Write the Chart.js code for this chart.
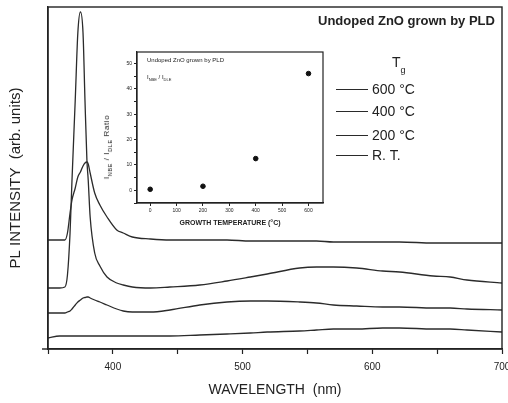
<!DOCTYPE html>
<html>
<head>
<meta charset="utf-8">
<script src="https://cdn.jsdelivr.net/npm/chart.js@4"></script>
<style>
  html, body { margin:0; padding:0; background:#fff; }
  #wrap { position:relative; width:508px; height:403px; overflow:hidden; font-family:"Liberation Sans", Arial, sans-serif; color:#222; }
  canvas { position:absolute; }
  .t { position:absolute; white-space:nowrap; line-height:1; }
  .ln { position:absolute; height:0; border-top:1.4px solid #2a2a2a; }
</style>
</head>
<body>
<div id="wrap">
  <canvas id="main" width="508" height="403" style="left:0;top:0;"></canvas>
  <canvas id="inset" width="230" height="190" style="left:100px;top:45px;"></canvas>

  <div class="t" style="left:318px;top:14px;font-size:13px;font-weight:bold;">Undoped ZnO grown by PLD</div>

  <div class="t" style="left:392px;top:55px;font-size:14px;">T<sub style="font-size:9px;position:relative;top:2px;">g</sub></div>
  <div class="ln" style="left:336px;top:89px;width:32px;"></div>
  <div class="t" style="left:372px;top:82px;font-size:14px;">600 °C</div>
  <div class="ln" style="left:336px;top:111px;width:32px;"></div>
  <div class="t" style="left:372px;top:104px;font-size:14px;">400 °C</div>
  <div class="ln" style="left:336px;top:135px;width:32px;"></div>
  <div class="t" style="left:372px;top:128px;font-size:14px;">200 °C</div>
  <div class="ln" style="left:336px;top:155px;width:32px;"></div>
  <div class="t" style="left:372px;top:148px;font-size:14px;">R. T.</div>

  <div class="t" style="left:147px;top:57px;font-size:6px;">Undoped ZnO grown by PLD</div>
  <div class="t" style="left:147px;top:74px;font-size:6px;">I<sub style="font-size:4px;">NBE</sub> / I<sub style="font-size:4px;">DLE</sub></div>
  <div class="t" style="left:108px;top:147px;font-size:8px;letter-spacing:0.6px;transform:translate(-50%,-50%) rotate(-90deg);">I<sub style="font-size:5.5px;">NBE</sub> / I<sub style="font-size:5.5px;">DLE</sub> Ratio</div>
</div>

<script>
// ---- Main PL spectra data (wavelength in nm, intensity in arbitrary, vertically offset units) ----
const wavelengths = [350,359,363,365,367,368.5,371,373,375,377,378.5,380,381,382.5,386,390,395.5,403,408,415,429,444,467,488,506,519,544,557,570,588,608,621,647,660,673,700];
const pl600 = [109,109,109,116,136,149,161,172,177,183,186,187,185,176,156,144,132,119,116,112,110,109,109,109,108,108,108,108,107,107,107,107,106,106,106,106];
const pl400 = [61,61,62,74,116,169,249,316,337,316,249,189,169,132,96,83,72,66,64,62,61,62,64,68,72,75,81,82,82,81,78,77,73,72,69,66];
const pl200 = [36,36,36,37,38,40,44,47,49,51,51.5,52,52,51,49,47,44,40,38,37,37,39,44,47,48,48,47,46,44,43,42,42,41,41,40,39];
const plRT  = [11,13,13,13,13,13,13,13,13,13,13,13,13,13,13,13,13,13,13,13,13,13,14,15,16,17,18,19,20,20,21,21,20,20,19,17];
const seriesLabels = ['600 °C','400 °C','200 °C','R. T.'];
const wavelengthTicks = [350,400,450,500,550,600,650,700];
const wavelengthTickLabels = [400,500,600,700];

// ---- Inset data ----
const growthTemps = [0,200,400,600];
const intensityRatios = [0.4,1.6,12.5,46];
const insetXTicks = [0,100,200,300,400,500,600];
const insetYTicks = [-5,0,5,10,15,20,25,30,35,40,45,50];
const insetYTickLabels = [0,10,20,30,40,50];

const FONT = '"Liberation Sans", Arial, sans-serif';
const INK = '#222';

const framePlugin = {
  id: 'frame',
  afterDatasetsDraw(chart, args, opts) {
    const {ctx, chartArea: a} = chart;
    ctx.save();
    ctx.strokeStyle = INK;
    ctx.lineWidth = opts.width || 1.4;
    ctx.strokeRect(a.left, a.top, a.right - a.left, a.bottom - a.top);
    if (opts.extendLeft) {
      ctx.beginPath();
      ctx.moveTo(a.left - opts.extendLeft, a.bottom);
      ctx.lineTo(a.left, a.bottom);
      ctx.stroke();
    }
    ctx.restore();
  }
};

const noPad = s => { s.paddingLeft = 0; s.paddingRight = 0; s.paddingTop = 0; s.paddingBottom = 0; };

const spectra = [pl600, pl400, pl200, plRT];

new Chart(document.getElementById('main'), {
  type: 'line',
  data: {
    datasets: spectra.map((s, k) => ({
      label: seriesLabels[k],
      data: wavelengths.map((w, i) => ({x: w, y: s[i]})),
      borderColor: '#2b2b2b',
      borderWidth: 1.3,
      pointRadius: 0,
      cubicInterpolationMode: 'monotone',
      fill: false
    }))
  },
  options: {
    responsive: false,
    animation: false,
    devicePixelRatio: 1,
    layout: {padding: {top: 7, right: 6, left: 0, bottom: 0}},
    plugins: {legend: {display: false}, tooltip: {enabled: false}, frame: {width: 1.4, extendLeft: 6}},
    scales: {
      x: {
        type: 'linear', min: 350, max: 700,
        afterBuildTicks: s => { s.ticks = wavelengthTicks.map(v => ({value: v})); },
        afterFit: s => { s.height = 54; noPad(s); },
        ticks: {
          autoSkip: false, maxRotation: 0, padding: 7, color: INK,
          font: {size: 10, family: FONT},
          callback: v => wavelengthTickLabels.includes(v) ? String(v) : ''
        },
        grid: {drawOnChartArea: false, drawTicks: true, tickLength: 5, color: INK, tickWidth: 1.2},
        border: {display: true, color: INK, width: 1.4},
        title: {display: true, text: 'WAVELENGTH  (nm)', color: INK, font: {size: 14, family: FONT}, padding: {top: 0, bottom: 4}}
      },
      y: {
        type: 'linear', min: 0, max: 342,
        afterFit: s => { s.width = 48; noPad(s); },
        ticks: {display: false},
        grid: {display: false},
        border: {display: true, color: INK, width: 1.4},
        title: {display: true, text: 'PL INTENSITY  (arb. units)', color: INK, font: {size: 15, family: FONT}, padding: {top: 7, bottom: 0}}
      }
    }
  },
  plugins: [framePlugin]
});

new Chart(document.getElementById('inset'), {
  type: 'scatter',
  data: {
    datasets: [{
      label: 'INBE / IDLE Ratio',
      data: growthTemps.map((t, i) => ({x: t, y: intensityRatios[i]})),
      backgroundColor: '#111',
      borderColor: '#111',
      pointRadius: 2.3,
      pointStyle: 'circle'
    }]
  },
  options: {
    responsive: false,
    animation: false,
    devicePixelRatio: 1,
    layout: {padding: {top: 7, right: 7, left: 0, bottom: 0}},
    plugins: {legend: {display: false}, tooltip: {enabled: false}, frame: {width: 1.2}},
    scales: {
      x: {
        type: 'linear', min: -50, max: 655,
        afterBuildTicks: s => { s.ticks = insetXTicks.map(v => ({value: v})); },
        afterFit: s => { s.height = 32; noPad(s); },
        ticks: {autoSkip: false, maxRotation: 0, padding: 2, color: INK, font: {size: 5, family: FONT}},
        grid: {drawOnChartArea: false, tickLength: 3, color: INK, tickWidth: 1},
        border: {display: true, color: INK, width: 1.2},
        title: {display: true, text: 'GROWTH TEMPERATURE (°C)', color: INK, font: {size: 7, family: FONT, weight: 'bold'}, padding: {top: 0, bottom: 8}}
      },
      y: {
        type: 'linear', min: -5, max: 54.5,
        afterBuildTicks: s => { s.ticks = insetYTicks.map(v => ({value: v})); },
        afterFit: s => { s.width = 37; noPad(s); },
        ticks: {autoSkip: false, padding: 2, color: INK, font: {size: 5, family: FONT},
          callback: v => insetYTickLabels.includes(v) ? String(v) : ''},
        grid: {drawOnChartArea: false, tickLength: 3, color: INK, tickWidth: 1},
        border: {display: true, color: INK, width: 1.2}
      }
    }
  },
  plugins: [framePlugin]
});
</script>
</body>
</html>
